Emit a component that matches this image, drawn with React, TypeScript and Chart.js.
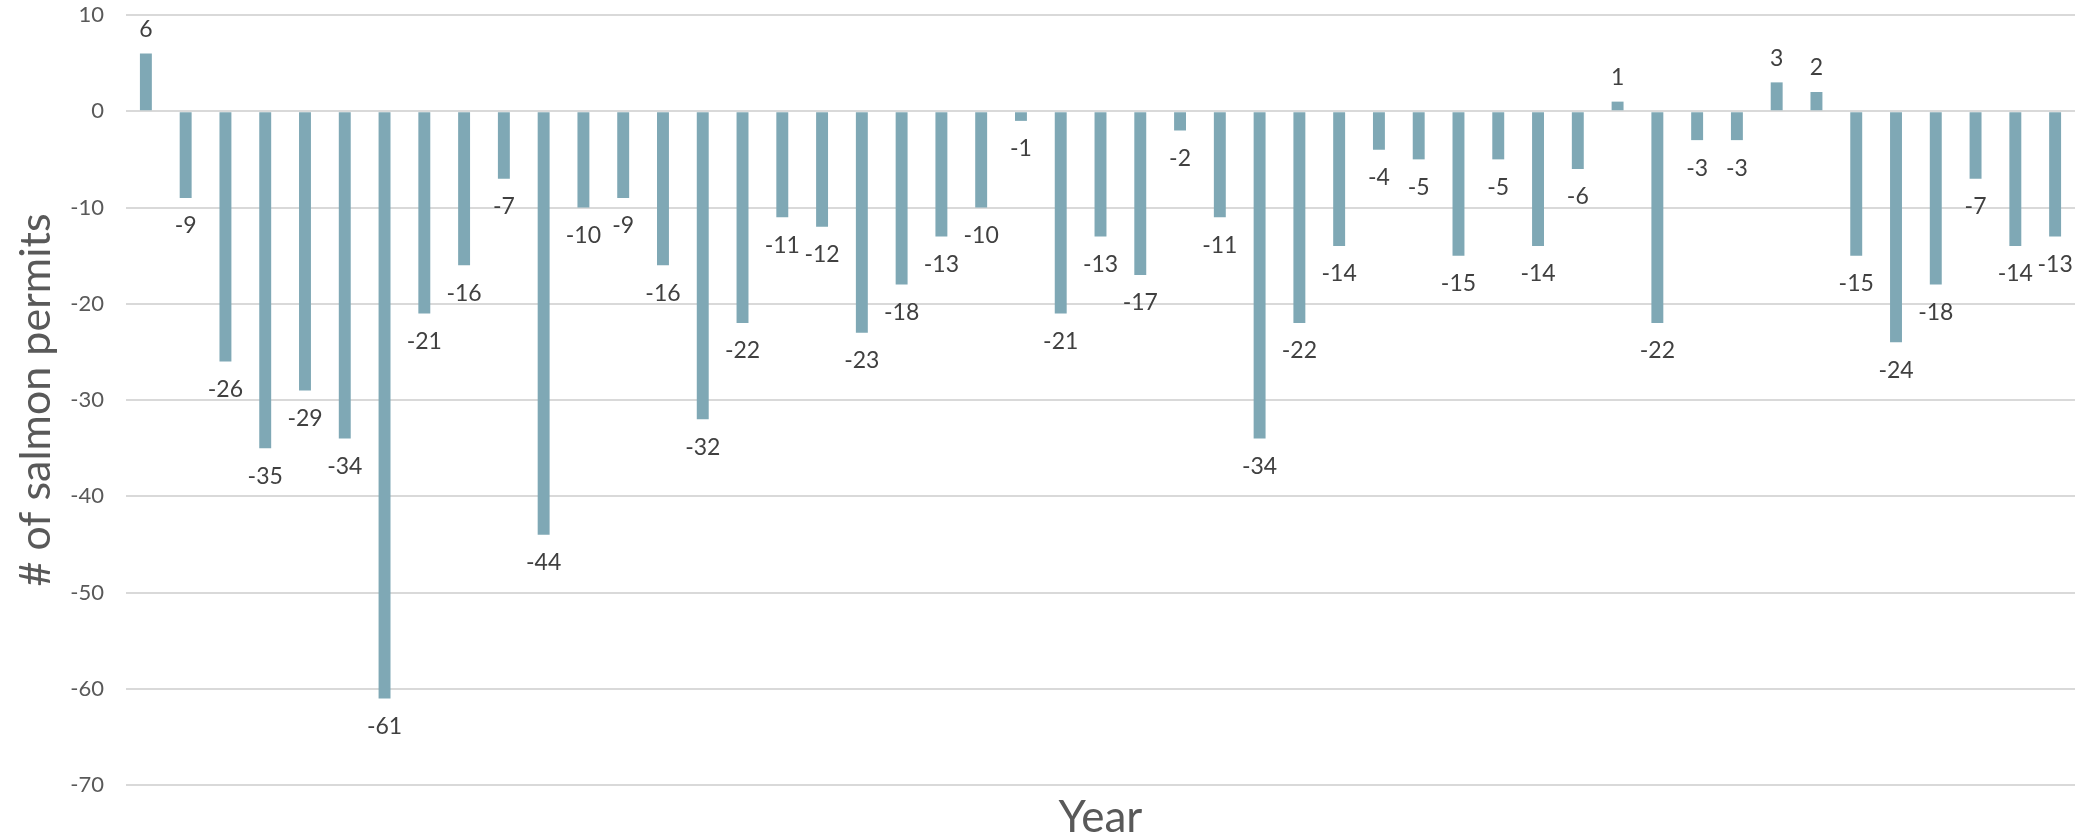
import React, { useEffect, useRef } from "react";
import { Chart, registerables } from "chart.js";

Chart.register(...registerables);

const years: string[] = [];
for (let i = 0; i < 49; i++) years.push(String(1970 + i));

const permitChange = [
  6, -9, -26, -35, -29, -34, -61, -21, -16, -7, -44, -10, -9, -16, -32, -22, -11, -12, -23, -18,
  -13, -10, -1, -21, -13, -17, -2, -11, -34, -22, -14, -4, -5, -15, -5, -14, -6, 1, -22, -3, -3,
  3, 2, -15, -24, -18, -7, -14, -13,
];

const yTicks = [10, 0, -10, -20, -30, -40, -50, -60, -70];

const FONT = "Lato, 'Noto Sans', sans-serif";

const labelPlugin = {
  id: "barLabels",
  afterDatasetsDraw(chart: any) {
    const ctx = chart.ctx;
    const meta = chart.getDatasetMeta(0);
    ctx.save();
    ctx.font = `23px ${FONT}`;
    ctx.fillStyle = "#404040";
    ctx.textAlign = "center";
    ctx.textBaseline = "middle";
    meta.data.forEach((bar: any, i: number) => {
      const v = permitChange[i];
      const y = v >= 0 ? bar.y - 24 : bar.y + 28;
      ctx.fillText(String(v), bar.x, y);
    });
    ctx.restore();
  },
};

export default function App() {
  const ref = useRef<HTMLCanvasElement | null>(null);
  useEffect(() => {
    if (!ref.current) return;
    const chart = new Chart(ref.current, {
      type: "bar",
      data: {
        labels: years,
        datasets: [
          {
            data: permitChange,
            backgroundColor: "#7FA8B5",
            barPercentage: 0.6,
            categoryPercentage: 0.5,
          },
        ],
      },
      options: {
        animation: false,
        responsive: false,
        layout: { padding: { top: 15, right: 15, left: 0, bottom: 0 } },
        plugins: { legend: { display: false }, tooltip: { enabled: false } },
        scales: {
          x: {
            grid: { display: false, drawTicks: false },
            border: { display: false },
            ticks: { display: false },
            title: {
              display: true,
              text: "Year",
              color: "#595959",
              font: { family: FONT, size: 44 },
              padding: { top: 0, bottom: -5 },
            },
            afterFit: (s: any) => {
              s.height = 54;
              s.paddingLeft = 0;
              s.paddingRight = 0;
            },
          },
          y: {
            min: -70,
            max: 10,
            afterBuildTicks: (s: any) => {
              s.ticks = yTicks.map((v) => ({ value: v }));
            },
            grid: { color: "#D9D9D9", lineWidth: 2, drawTicks: false },
            border: { display: false },
            ticks: {
              color: "#595959",
              font: { family: FONT, size: 22 },
              padding: 22,
            },
            title: {
              display: true,
              text: "# of salmon permits",
              color: "#595959",
              font: { family: FONT, size: 43 },
              padding: { top: 10, bottom: 0 },
            },
            afterFit: (s: any) => {
              s.width = 126;
              s.paddingTop = 0;
              s.paddingBottom = 0;
            },
          },
        },
      },
      plugins: [labelPlugin],
    });
    return () => chart.destroy();
  }, []);
  return (
    <>
      <style>{"body{margin:0}"}</style>
      <canvas ref={ref} width={2090} height={839} style={{ display: "block" }} />
    </>
  );
}
